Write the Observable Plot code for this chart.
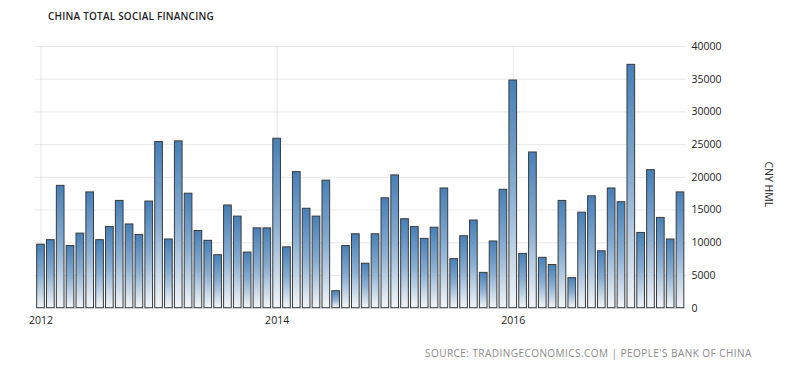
<!DOCTYPE html>
<html>
<head>
<meta charset="utf-8">
<script src="https://cdn.jsdelivr.net/npm/d3@7"></script>
<script src="https://cdn.jsdelivr.net/npm/@observablehq/plot@0.6"></script>
<style>
  html, body { margin: 0; padding: 0; background: #fff; }
  #wrap { position: relative; width: 800px; height: 372px; overflow: hidden; font-family: "Open Sans", sans-serif; }
  #title { position: absolute; left: 48px; top: 9px; font-size: 10px; font-weight: 600; color: #1e1e1e; letter-spacing: 0.2px; white-space: nowrap; }
  #source { position: absolute; left: 425px; top: 346px; font-size: 10px; color: #8a8a8a; letter-spacing: 0.45px; white-space: nowrap; }
  #chart { position: absolute; left: 0; top: 0; }
</style>
</head>
<body>
<div id="wrap">
  <div id="chart"></div>
  <div id="title">CHINA TOTAL SOCIAL FINANCING</div>
  <div id="source">SOURCE: TRADINGECONOMICS.COM | PEOPLE'S BANK OF CHINA</div>
</div>
<script>
// Monthly values (CNY hundred million)
const years = [2012, 2013, 2014, 2015, 2016, 2017];
const values2012 = [9700, 10400, 18700, 9500, 11400, 17700, 10400, 12400, 16400, 12800, 11200, 16300];
const values2013 = [25400, 10500, 25500, 17500, 11800, 10300, 8100, 15700, 14000, 8500, 12200, 12200];
const values2014 = [25900, 9300, 20800, 15200, 14000, 19500, 2600, 9500, 11300, 6800, 11300, 16800];
const values2015 = [20300, 13600, 12400, 10600, 12300, 18300, 7500, 11000, 13400, 5400, 10200, 18100];
const values2016 = [34800, 8300, 23800, 7700, 6600, 16400, 4600, 14600, 17100, 8700, 18300, 16200];
const values2017 = [37200, 11500, 21100, 13800, 10500, 17700];
const xTicks = ["2012-01", "2014-01", "2016-01"];
const yTicks = [0, 5000, 10000, 15000, 20000, 25000, 30000, 35000, 40000];
const yLabel = "CNY HML";

const series = [values2012, values2013, values2014, values2015, values2016, values2017];
const data = [];
years.forEach((yr, i) => {
  series[i].forEach((v, m) => {
    data.push({month: `${yr}-${String(m + 1).padStart(2, "0")}`, value: v});
  });
});

const svg = Plot.plot({
  width: 800,
  height: 372,
  marginLeft: 34.5,
  marginRight: 114,
  marginTop: 46,
  marginBottom: 64.3,
  style: {fontFamily: "Open Sans, sans-serif", fontSize: "10.5px", color: "#222", background: "transparent"},
  x: {
    type: "band",
    domain: data.map(d => d.month),
    padding: 0.22,
    ticks: xTicks,
    tickFormat: d => d.slice(0, 4),
    tickSize: 0,
    tickPadding: 8,
    label: null,
    grid: true
  },
  y: {
    domain: [0, 40000],
    ticks: yTicks,
    tickFormat: d => String(d),
    axis: "right",
    tickSize: 0,
    tickPadding: 5,
    label: null,
    grid: true
  },
  marks: [
    Plot.barY(data, {x: "month", y: "value", fill: "url(#barGrad)", stroke: "#3a3a3a", strokeWidth: 1}),
    Plot.text([yLabel], {frameAnchor: "right", textAnchor: "middle", dx: 82, dy: 7, rotate: 90, fontSize: 10.5, fill: "#222", text: d => d})
  ]
});

const ns = "http://www.w3.org/2000/svg";
const defs = document.createElementNS(ns, "defs");
defs.innerHTML = `<linearGradient id="barGrad" x1="0" y1="0" x2="0" y2="1">
  <stop offset="0" stop-color="#4680b8"/>
  <stop offset="0.5" stop-color="#8aafd3"/>
  <stop offset="1" stop-color="#f3f6f9"/>
</linearGradient>`;
svg.prepend(defs);
document.getElementById("chart").appendChild(svg);
</script>
</body>
</html>
